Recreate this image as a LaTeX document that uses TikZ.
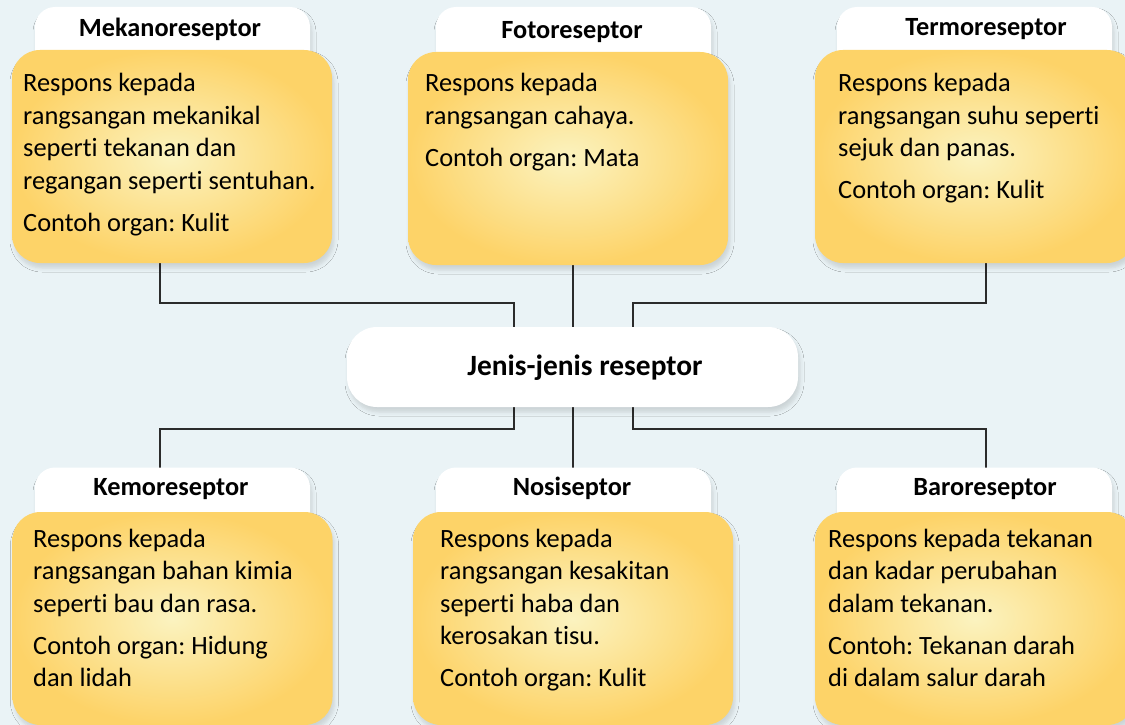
\documentclass[tikz,border=0pt]{standalone}
\usepackage{fontspec}
\setmainfont{Carlito}[Ligatures=NoCommon]
\usetikzlibrary{shadows.blur}
\definecolor{bg}{HTML}{EAF3F6}
\definecolor{yout}{HTML}{FDD368}
\definecolor{yin}{HTML}{FBF3C0}
\definecolor{ln}{HTML}{2B2B2B}
\tikzset{
  softshadow/.style={blur shadow={shadow xshift=2pt,shadow yshift=-5pt,shadow blur radius=4pt,shadow opacity=13}},
  tabbox/.style={draw=none,fill=white,rounded corners=20pt,minimum width=275pt,minimum height=83pt,inner sep=0pt,softshadow},
  ybox/.style={draw=none,rounded corners=28pt,inner color=yin,outer color=yout,minimum width=320pt,minimum height=213pt,inner sep=0pt,softshadow},
  cbox/.style={draw=none,fill=white,rounded corners=30pt,minimum width=451pt,minimum height=80pt,inner sep=0pt,softshadow},
  ttl/.style={font=\fontsize{26.3}{30}\selectfont\bfseries,inner sep=0pt,anchor=base},
  body/.style={font=\fontsize{26.4}{32.5}\selectfont,inner sep=0pt,anchor=base west},
  conn/.style={draw=ln,line width=1.2pt}
}
\newcommand{\bodytext}[1]{\begin{tabular}[t]{@{}l@{}}#1\end{tabular}}
\frenchspacing
\begin{document}
\begin{tikzpicture}[x=1pt,y=-1pt]
\fill[bg] (0,0) rectangle (1125,725);
\useasboundingbox (0,0) rectangle (1125,725);

% connectors
\coordinate (jt) at (0,303);
\coordinate (jb) at (0,429);
\coordinate (tlb) at (160,263);
\coordinate (tmb) at (573,265);
\coordinate (trb) at (986,263);
\coordinate (ctl) at (514,327);
\coordinate (ctm) at (573,327);
\coordinate (ctr) at (633,327);
\coordinate (cbl) at (514,407);
\coordinate (cbm) at (573,407);
\coordinate (cbr) at (633,407);
\coordinate (blt) at (160,468);
\coordinate (bmt) at (573,468);
\coordinate (brt) at (986,468);
\draw[conn] (tlb) |- (jt -| ctl) -- (ctl);
\draw[conn] (tmb) -- (ctm);
\draw[conn] (trb) |- (jt -| ctr) -- (ctr);
\draw[conn] (cbl) |- (jb -| blt) -- (blt);
\draw[conn] (cbm) -- (bmt);
\draw[conn] (cbr) |- (jb -| brt) -- (brt);

% tabs
\node[tabbox] (tab1) at (172.5,48.5) {};
\node[tabbox] (tab2) at (573.5,48.5) {};
\node[tabbox] (tab3) at (974.5,48.5) {};
\node[tabbox] (tab4) at (172.5,509) {};
\node[tabbox] (tab5) at (573.5,509) {};
\node[tabbox] (tab6) at (974.5,509) {};

% yellow boxes
\node[ybox] (b1) at (172,156.5) {};
\node[ybox] (b2) at (568,158.5) {};
\node[ybox] (b3) at (975,156.5) {};
\node[ybox] (b4) at (172.5,618.5) {};
\node[ybox] (b5) at (573,618.5) {};
\node[ybox] (b6) at (975,618.5) {};

% center
\node[cbox] (center) at (572.5,367) {};
\node[font=\fontsize{29.4}{34}\selectfont\bfseries,inner sep=0pt,anchor=base] (centert) at (585,375) {Jenis-jenis reseptor};

% titles
\node[ttl] (h1) at (170,36.7) {Mekanoreseptor};
\node[ttl] (h2) at (572,38.3) {Fotoreseptor};
\node[ttl] (h3) at (986,36) {Termoreseptor};
\node[ttl] (h4) at (171,495) {Kemoreseptor};
\node[ttl] (h5) at (572,495) {Nosiseptor};
\node[ttl] (h6) at (985,495) {Baroreseptor};

% bodies
\node[body] (t1) at (23,92) {\bodytext{Respons kepada\\rangsangan mekanikal\\seperti tekanan dan\\regangan seperti sentuhan.\\[9.5pt]Contoh organ: Kulit}};
\node[body] (t2) at (425,92) {\bodytext{Respons kepada\\rangsangan cahaya.\\[9.5pt]Contoh organ: Mata}};
\node[body] (t3) at (838,92) {\bodytext{Respons kepada\\rangsangan suhu seperti\\sejuk dan panas.\\[9.5pt]Contoh organ: Kulit}};
\node[body] (t4) at (33,547) {\bodytext{Respons kepada\\rangsangan bahan kimia\\seperti bau dan rasa.\\[9.5pt]Contoh organ: Hidung\\dan lidah}};
\node[body] (t5) at (440,547) {\bodytext{Respons kepada\\rangsangan kesakitan\\seperti haba dan\\kerosakan tisu.\\[9.5pt]Contoh organ: Kulit}};
\node[body] (t6) at (828,547) {\bodytext{Respons kepada tekanan\\dan kadar perubahan\\dalam tekanan.\\[9.5pt]Contoh: Tekanan darah\\di dalam salur darah}};
\end{tikzpicture}
\end{document}
